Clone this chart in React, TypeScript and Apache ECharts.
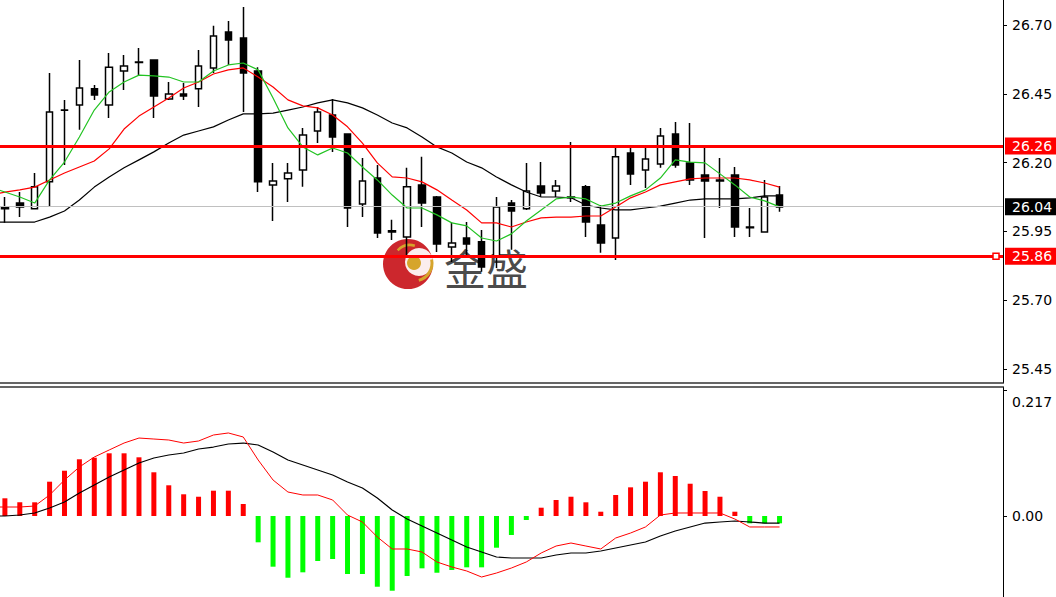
import React, { useEffect, useRef } from "react";
import * as echarts from "echarts";

// ---- price candles (53 bars) ----
const candleOpen = [
  26.037, 26.053, 26.032, 26.13, 26.39, 26.409, 26.468, 26.409, 26.533, 26.566,
  26.573, 26.431, 26.449, 26.468, 26.544, 26.675, 26.653, 26.533, 26.119, 26.141,
  26.173, 26.315, 26.373, 26.304, 26.05, 26.144, 25.952, 25.93, 26.119, 26.075,
  25.893, 25.926, 25.912, 25.857, 26.053, 26.032, 26.115, 26.097, 26.075, 26.112,
  25.973, 25.926, 26.235, 26.173, 26.195, 26.304, 26.199, 26.155, 26.137, 26.155,
  25.966, 25.948, 26.082,
];
const candleClose = [
  26.032, 26.039, 26.112, 26.384, 26.391, 26.471, 26.446, 26.547, 26.551, 26.564,
  26.442, 26.449, 26.442, 26.551, 26.66, 26.646, 26.526, 26.13, 26.133, 26.162,
  26.3, 26.384, 26.293, 26.035, 26.133, 25.944, 25.948, 26.112, 26.053, 25.904,
  25.908, 25.904, 25.821, 26.039, 26.024, 26.097, 26.09, 26.115, 26.072, 25.984,
  25.908, 26.221, 26.159, 26.213, 26.297, 26.191, 26.137, 26.133, 26.133, 25.966,
  25.963, 26.075, 26.039,
];
const candleLow = [
  25.981, 26.002, 26.03, 26.039, 26.191, 26.319, 26.428, 26.362, 26.464, 26.518,
  26.362, 26.428, 26.428, 26.402, 26.526, 26.555, 26.384, 26.093, 25.988, 26.057,
  26.112, 26.271, 26.239, 25.966, 26.002, 25.926, 25.919, 25.853, 25.966, 25.875,
  25.839, 25.853, 25.803, 25.817, 25.883, 26.028, 26.075, 26.075, 26.057, 25.93,
  25.872, 25.846, 26.119, 26.108, 26.181, 26.181, 26.119, 25.926, 26.035, 25.93,
  25.93, 25.948, 26.021,
];
const candleHigh = [
  26.075, 26.093, 26.162, 26.526, 26.428, 26.573, 26.482, 26.598, 26.591, 26.617,
  26.573, 26.493, 26.489, 26.609, 26.697, 26.715, 26.766, 26.547, 26.199, 26.199,
  26.326, 26.402, 26.431, 26.304, 26.217, 26.191, 25.992, 26.181, 26.221, 26.079,
  25.984, 25.984, 25.955, 26.075, 26.064, 26.199, 26.202, 26.137, 26.275, 26.119,
  26.046, 26.257, 26.26, 26.257, 26.326, 26.348, 26.344, 26.257, 26.217, 26.184,
  26.035, 26.137, 26.115,
];

// ---- moving averages (one leading value before the first visible bar + 53) ----
const maFast = [
  26.111, 26.093, 26.075, 26.053, 26.137, 26.202, 26.293, 26.391, 26.457, 26.493,
  26.518, 26.515, 26.511, 26.493, 26.493, 26.533, 26.555, 26.562, 26.537, 26.435,
  26.326, 26.257, 26.228, 26.253, 26.235, 26.184, 26.137, 26.082, 26.035, 26.035,
  26.01, 25.981, 25.97, 25.926, 25.915, 25.941, 25.988, 26.028, 26.068, 26.075,
  26.068, 26.042, 26.053, 26.079, 26.101, 26.144, 26.21, 26.202, 26.199, 26.159,
  26.119, 26.075, 26.061, 26.039,
];
const maMid = [
  26.082, 26.093, 26.101, 26.111, 26.137, 26.162, 26.184, 26.206, 26.25, 26.322,
  26.369, 26.402, 26.435, 26.471, 26.493, 26.522, 26.537, 26.544, 26.511, 26.475,
  26.428, 26.406, 26.399, 26.373, 26.33, 26.271, 26.199, 26.148, 26.144, 26.13,
  26.101, 26.064, 26.028, 25.981, 25.981, 25.966, 25.984, 25.999, 26.002, 26.002,
  26.006, 26.006, 26.039, 26.072, 26.093, 26.119, 26.13, 26.141, 26.144, 26.144,
  26.144, 26.137, 26.126, 26.111,
];
const maSlow = [
  25.984, 25.984, 25.984, 25.984, 26.002, 26.024, 26.064, 26.111, 26.148, 26.181,
  26.21, 26.239, 26.271, 26.3, 26.315, 26.33, 26.355, 26.377, 26.377, 26.38,
  26.391, 26.402, 26.417, 26.428, 26.417, 26.399, 26.373, 26.344, 26.326, 26.293,
  26.257, 26.235, 26.202, 26.181, 26.148, 26.119, 26.093, 26.075, 26.075, 26.072,
  26.046, 26.035, 26.028, 26.028, 26.035, 26.042, 26.053, 26.064, 26.068, 26.068,
  26.068, 26.072, 26.079, 26.079,
];

// ---- MACD panel ----
const macdHist = [
  0.0305, 0.0236, 0.0236, 0.0591, 0.078, 0.0977, 0.1004, 0.108, 0.108, 0.1011,
  0.0753, 0.0529, 0.0374, 0.0332, 0.0436, 0.0436, 0.0207, -0.0453, -0.0873, -0.1063,
  -0.097, -0.0775, -0.0741, -0.0999, -0.0999, -0.1218, -0.1287, -0.1033, -0.0901, -0.0977,
  -0.093, -0.0884, -0.0884, -0.0546, -0.0327, -0.0069, 0.0143, 0.0276, 0.0332, 0.0236,
  0.0074, 0.0362, 0.0494, 0.0591, 0.0753, 0.0689, 0.0556, 0.0431, 0.0332, 0.0074,
  -0.0126, -0.0126, -0.0126,
];
const macdRed = [
  0.0155, 0.0155, 0.0155, 0.0172, 0.0362, 0.062, 0.0844, 0.1016, 0.1137, 0.1257,
  0.1343, 0.1326, 0.1309, 0.1257, 0.1292, 0.1395, 0.143, 0.1361, 0.0965, 0.062,
  0.0413, 0.0362, 0.0362, 0.0276, 0.0017, -0.0103, -0.0362, -0.0568, -0.0568, -0.062,
  -0.0792, -0.0878, -0.0947, -0.1051, -0.0982, -0.0896, -0.0792, -0.0637, -0.0517, -0.0465,
  -0.0517, -0.0568, -0.0379, -0.0293, -0.0189, 0.0017, 0.0052, 0.0052, 0.0052, 0.0052,
  -0.0052, -0.0189, -0.0189, -0.0189,
];
const macdBlack = [
  0.0, 0.0, 0.0017, 0.0052, 0.0138, 0.0241, 0.0396, 0.0534, 0.0672, 0.0792,
  0.0913, 0.0999, 0.1051, 0.1085, 0.1154, 0.1188, 0.124, 0.1257, 0.1223, 0.1102,
  0.0965, 0.0878, 0.0792, 0.0706, 0.0586, 0.0482, 0.031, 0.0103, -0.0052, -0.0172,
  -0.0293, -0.0413, -0.0534, -0.062, -0.0706, -0.0723, -0.0723, -0.0723, -0.0672, -0.0637,
  -0.0637, -0.0603, -0.0551, -0.0499, -0.0448, -0.0344, -0.0258, -0.0189, -0.0121, -0.0103,
  -0.0086, -0.0103, -0.0121, -0.0121,
];

// ---- levels & ticks ----
const resistanceLevel = 26.26;
const supportLevel = 25.86;
const lastPrice = 26.04;
const priceTicks = [25.45, 25.7, 25.95, 26.2, 26.45, 26.7];
const macdTicks = [0, 0.217];
const TOTAL_SLOTS = 69; // 1 leading slot + 53 bars + empty future space

const FONT = "DejaVu Sans";
const SHIFT = 10; // chart canvas starts 10px left of the page so the first slot is off-screen

export default function App() {
  const ref = useRef<HTMLDivElement>(null);

  useEffect(() => {
    if (!ref.current) return;
    const chart = echarts.init(ref.current, null, { renderer: "svg" });

    const slots = Array.from({ length: TOTAL_SLOTS }, (_, i) => String(i));
    const candleData: any[] = [["-", "-", "-", "-"]].concat(
      candleOpen.map((o, i) => [o, candleClose[i], candleLow[i], candleHigh[i]])
    );
    const histData: any[] = ["-" as any].concat(
      macdHist.map((v) => ({
        value: v,
        itemStyle: { color: v >= 0 ? "#ff0000" : "#00ff00" },
      }))
    );

    const levelLabel = (bg: string) => ({
      show: true,
      position: "end",
      distance: 2,
      formatter: (p: any) => Number(p.value).toFixed(2),
      color: "#fff",
      backgroundColor: bg,
      fontFamily: FONT,
      fontSize: 14,
      padding: [2, 6, 1, 7],
    });

    const option: any = {
      animation: false,
      backgroundColor: "#ffffff",
      grid: [
        { left: 0, right: 53, top: 0, bottom: 214 },
        { left: 0, right: 53, top: 387, bottom: 0 },
      ],
      xAxis: [
        {
          type: "category",
          gridIndex: 0,
          data: slots,
          boundaryGap: false,
          axisLine: { show: true, onZero: false, lineStyle: { color: "#333", width: 1.5 } },
          axisTick: { show: false },
          axisLabel: { show: false },
          splitLine: { show: false },
        },
        {
          type: "category",
          gridIndex: 1,
          data: slots,
          boundaryGap: false,
          position: "top",
          axisLine: { show: true, onZero: false, lineStyle: { color: "#333", width: 1.5 } },
          axisTick: { show: false },
          axisLabel: { show: false },
          splitLine: { show: false },
        },
      ],
      yAxis: [
        {
          type: "value",
          gridIndex: 0,
          position: "right",
          min: 25.399,
          max: 26.791,
          axisLine: { show: true, lineStyle: { color: "#000", width: 1 } },
          axisTick: {
            show: true,
            length: 4,
            customValues: priceTicks,
            lineStyle: { color: "#000" },
          },
          axisLabel: {
            customValues: priceTicks,
            formatter: (v: number) => v.toFixed(2),
            margin: 9,
            color: "#000",
            fontFamily: FONT,
            fontSize: 14,
          },
          splitLine: { show: false },
        },
        {
          type: "value",
          gridIndex: 1,
          position: "right",
          min: -0.1395,
          max: 0.2222,
          axisLine: { show: true, lineStyle: { color: "#000", width: 1 } },
          axisTick: {
            show: true,
            length: 4,
            customValues: macdTicks,
            lineStyle: { color: "#000" },
          },
          axisLabel: {
            customValues: macdTicks,
            formatter: (v: number) => (v > 0.1 ? "{t|" + v.toFixed(3) + "}" : v.toFixed(2)),
            margin: 9,
            color: "#000",
            fontFamily: FONT,
            fontSize: 14,
            rich: {
              t: { padding: [23, 0, 0, 0], color: "#000", fontFamily: FONT, fontSize: 14 },
            },
          },
          splitLine: { show: false },
        },
      ],
      series: [
        {
          type: "line",
          name: "last",
          xAxisIndex: 0,
          yAxisIndex: 0,
          data: [],
          silent: true,
          z: 1,
          markLine: {
            silent: true,
            symbol: ["none", "none"],
            lineStyle: { color: "#c0c0c0", width: 1, type: "solid" },
            label: levelLabel("#000000"),
            data: [{ yAxis: lastPrice }],
          },
        },
        {
          type: "candlestick",
          xAxisIndex: 0,
          yAxisIndex: 0,
          data: candleData,
          barWidth: 7,
          silent: true,
          z: 3,
          itemStyle: {
            color: "#ffffff",
            color0: "#000000",
            borderColor: "#000000",
            borderColor0: "#000000",
            borderWidth: 1.5,
          },
        },
        {
          type: "line",
          xAxisIndex: 0,
          yAxisIndex: 0,
          data: maSlow,
          showSymbol: false,
          silent: true,
          z: 4,
          lineStyle: { color: "#000000", width: 1.2 },
        },
        {
          type: "line",
          xAxisIndex: 0,
          yAxisIndex: 0,
          data: maMid,
          showSymbol: false,
          silent: true,
          z: 4,
          lineStyle: { color: "#ff0000", width: 1.2 },
        },
        {
          type: "line",
          xAxisIndex: 0,
          yAxisIndex: 0,
          data: maFast,
          showSymbol: false,
          silent: true,
          z: 4,
          lineStyle: { color: "#22c322", width: 1.2 },
        },
        {
          type: "line",
          name: "resistance",
          xAxisIndex: 0,
          yAxisIndex: 0,
          data: [],
          silent: true,
          z: 6,
          markLine: {
            silent: true,
            symbol: ["none", "none"],
            lineStyle: { color: "#ff0000", width: 3, type: "solid" },
            label: levelLabel("#ff0000"),
            data: [{ yAxis: resistanceLevel }],
          },
        },
        {
          type: "line",
          name: "support",
          xAxisIndex: 0,
          yAxisIndex: 0,
          data: [],
          silent: true,
          z: 6,
          markLine: {
            silent: true,
            symbol: ["none", "none"],
            lineStyle: { color: "#ff0000", width: 3, type: "solid" },
            label: levelLabel("#ff0000"),
            data: [{ yAxis: supportLevel }],
          },
        },
        {
          type: "bar",
          xAxisIndex: 1,
          yAxisIndex: 1,
          data: histData,
          barWidth: 5,
          silent: true,
          z: 2,
        },
        {
          type: "line",
          xAxisIndex: 1,
          yAxisIndex: 1,
          data: macdBlack,
          showSymbol: false,
          silent: true,
          z: 4,
          lineStyle: { color: "#000000", width: 1.2 },
        },
        {
          type: "line",
          xAxisIndex: 1,
          yAxisIndex: 1,
          data: macdRed,
          showSymbol: false,
          silent: true,
          z: 4,
          lineStyle: { color: "#ff0000", width: 1 },
        },
      ],
      graphic: [
        {
          type: "group",
          z: 50,
          silent: true,
          x: SHIFT,
          children: [
            { type: "circle", shape: { cx: 408, cy: 264, r: 25 }, style: { fill: "#c8151b", opacity: 0.92 } },
            { type: "circle", shape: { cx: 419, cy: 262, r: 14 }, style: { fill: "#fbeeee" } },
            { type: "circle", shape: { cx: 414, cy: 263, r: 7 }, style: { fill: "#d6a52c" } },
            {
              type: "arc",
              shape: { cx: 414, cy: 263, r: 18, startAngle: -0.2, endAngle: 1.3 },
              style: { stroke: "#d6a52c", lineWidth: 3, fill: "none" },
            },
            {
              type: "arc",
              shape: { cx: 410, cy: 262, r: 17, startAngle: 3.9, endAngle: 5.0 },
              style: { stroke: "#d6a52c", lineWidth: 2.5, fill: "none" },
            },
            {
              type: "text",
              x: 444,
              y: 266,
              style: {
                text: "金盛",
                fontFamily: "Noto Sans CJK SC",
                fontSize: 42,
                fill: "#2a2a2a",
                opacity: 0.85,
                verticalAlign: "middle",
                align: "left",
              },
            },
          ],
        },
      ],
    };

    chart.setOption(option);

    // small hollow marker on the support line, placed through the price scale
    const supportY = chart.convertToPixel({ yAxisIndex: 0 }, supportLevel) as number;
    chart.setOption({
      graphic: [
        {
          type: "rect",
          id: "supportMarker",
          z: 60,
          silent: true,
          shape: { x: SHIFT + 993, y: supportY - 3, width: 6, height: 6 },
          style: { fill: "#ffffff", stroke: "#ff0000", lineWidth: 1.5 },
        },
      ],
    });

    return () => chart.dispose();
  }, []);

  return (
    <div
      ref={ref}
      style={{
        position: "fixed",
        left: -SHIFT,
        top: 0,
        width: 1056 + SHIFT,
        height: 597,
        background: "#fff",
      }}
    />
  );
}
